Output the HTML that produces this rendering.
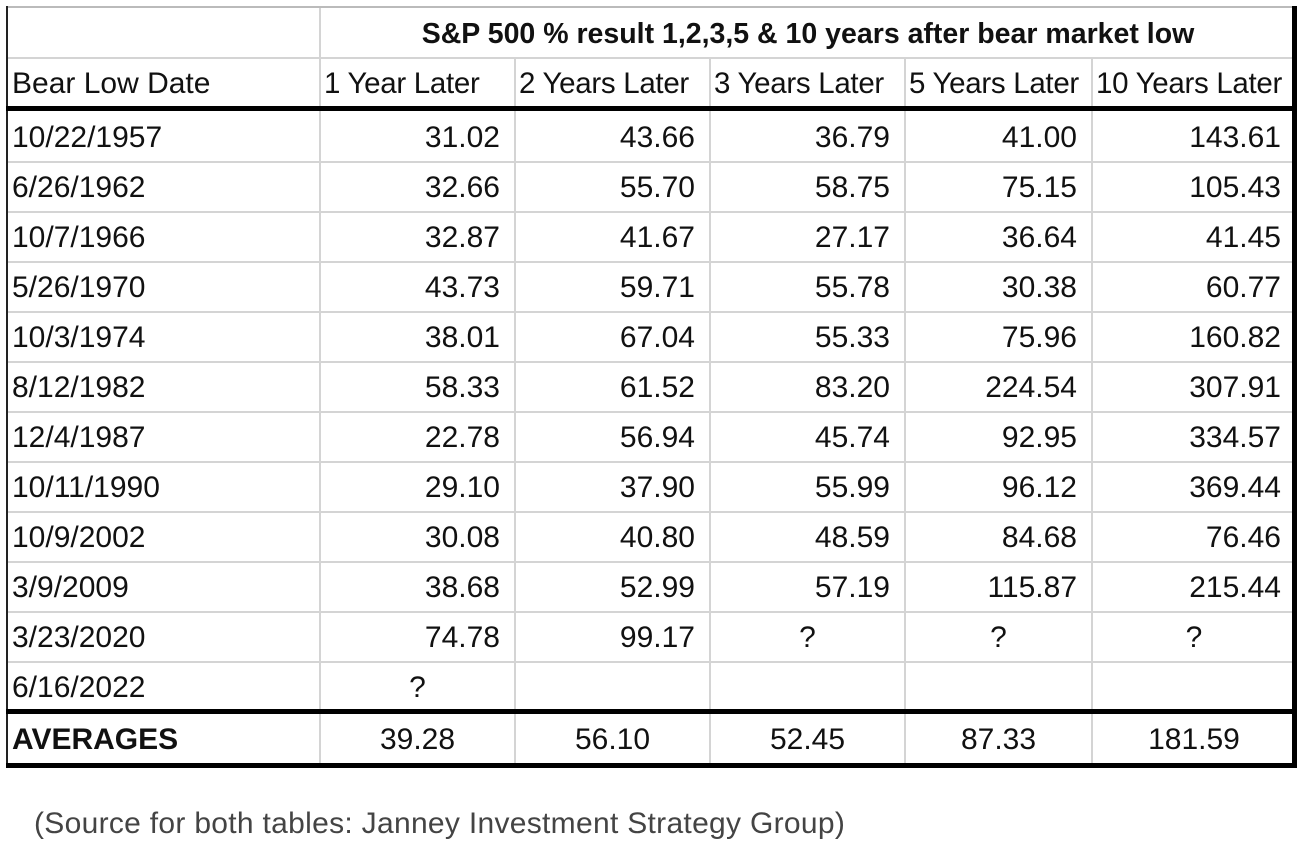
<!DOCTYPE html>
<html><head><meta charset="utf-8"><style>
body{margin:0;width:1310px;height:848px;background:#fff;position:relative;overflow:hidden;font-family:"Liberation Sans",sans-serif;color:#111}
.c{position:absolute;height:50px;line-height:52px;font-size:30px;white-space:nowrap;box-sizing:border-box}
</style></head><body>
<div id="tbl"></div>
<div style="position:absolute;left:34px;top:807px;font-size:30px;color:#444;letter-spacing:0.3px">(Source for both tables: Janney Investment Strategy Group)</div>
<script>
const dates=["10/22/1957","6/26/1962","10/7/1966","5/26/1970","10/3/1974","8/12/1982","12/4/1987","10/11/1990","10/9/2002","3/9/2009","3/23/2020","6/16/2022"];
const y1=["31.02","32.66","32.87","43.73","38.01","58.33","22.78","29.10","30.08","38.68","74.78","?"];
const y2=["43.66","55.70","41.67","59.71","67.04","61.52","56.94","37.90","40.80","52.99","99.17",""];
const y3=["36.79","58.75","27.17","55.78","55.33","83.20","45.74","55.99","48.59","57.19","?",""];
const y5=["41.00","75.15","36.64","30.38","75.96","224.54","92.95","96.12","84.68","115.87","?",""];
const y10=["143.61","105.43","41.45","60.77","160.82","307.91","334.57","369.44","76.46","215.44","?",""];
const heads=["1 Year Later","2 Years Later","3 Years Later","5 Years Later","10 Years Later"];
const avgs=["39.28","56.10","52.45","87.33","181.59"];
const cols=[7,320,515,710,905,1092,1296];
const T=document.getElementById('tbl');
function box(l,t,w,h,bg,name){const d=document.createElement('div');d.style.cssText=`position:absolute;left:${l}px;top:${t}px;width:${w}px;height:${h}px;background:${bg}`;


T.appendChild(d);}
function cell(txt,l,w,t,align,name,bold){const d=document.createElement('div');d.className='c';d.textContent=txt;
d.style.left=l+'px';d.style.width=w+'px';d.style.top=t+'px';d.style.textAlign=align;
if(align==='right')d.style.paddingRight='15px';if(align==='left')d.style.paddingLeft='5px';
if(bold)d.style.fontWeight='bold';


T.appendChild(d);return d;}
for(let i=1;i<6;i++){box(cols[i]-1,58,2,706,'#d4d4d4','column-divider');}
box(cols[1]-1,7,2,52,'#d4d4d4','column-divider');
box(7,57,1290,2,'#d4d4d4','row-divider');
for(let r=1;r<12;r++)box(7,111+50*r,1290,2,'#d4d4d4','row-divider');
box(7,6,1290,2,'#bbb','table-top-border');
box(6,6,2,762,'#222','table-left-border');
box(1292,6,5,762,'#000','table-right-border');
box(6,106,1291,5,'#000','header-rule');
box(6,709,1291,5,'#000','averages-rule');
box(6,763,1291,5,'#000','table-bottom-border');
const tt=cell("S&P 500 % result 1,2,3,5 & 10 years after bear market low",320,976,8,'center','table-title',true);
tt.style.fontSize='28.5px';
cell("Bear Low Date",7,313,58,'left','date-column-header');
heads.forEach((h,i)=>{const e=cell(h,cols[i+1],cols[i+2]-cols[i+1],58,'left','period-header');e.style.paddingLeft='4px';e.style.fontSize='29.5px';e.style.letterSpacing='-0.3px';});
const series=[y1,y2,y3,y5,y10];
dates.forEach((d,r)=>{const t=112+50*r;
cell(d,7,313,t,'left','bear-low-date');
series.forEach((s,i)=>{const v=s[r];const q=v==='?';
cell(v,cols[i+1],cols[i+2]-cols[i+1],t,q?'center':'right','return-value');});});
cell("AVERAGES",7,313,714,'left','averages-label',true);
avgs.forEach((a,i)=>cell(a,cols[i+1],cols[i+2]-cols[i+1],714,'center','average-value'));
</script>
</body></html>
